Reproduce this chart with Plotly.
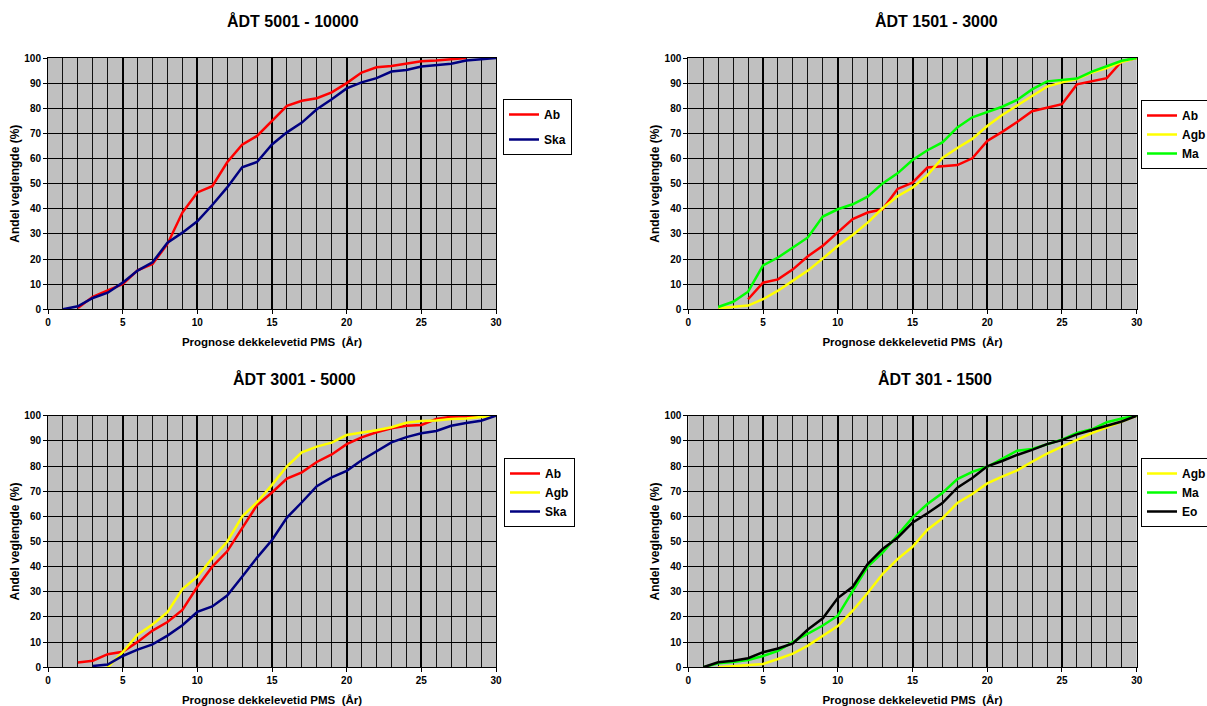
import plotly.graph_objects as go

# ---------------- data ----------------
titles = ["ÅDT 5001 - 10000", "ÅDT 1501 - 3000", "ÅDT 3001 - 5000", "ÅDT 301 - 1500"]
x_title = "Prognose dekkelevetid PMS  (År)"
y_title = "Andel veglengde (%)"

# Panel 1: ÅDT 5001 - 10000
p1_ab_x = list(range(2, 29))
p1_ab = [0.5, 5, 7.5, 10, 15.5, 18, 26, 38.5, 46.5, 49, 58.5, 65.5, 69, 75, 81, 83, 84, 86.3,
         90, 94.2, 96.3, 96.8, 97.6, 98.7, 99, 99.6, 100]
p1_ska_x = list(range(1, 31))
p1_ska = [0, 1.2, 4.5, 6.6, 10.6, 15.4, 18.7, 26.5, 30.5, 35, 41.5, 48.5, 56.5, 58.6, 65.6, 70.4,
          74.3, 79.6, 83.6, 87.9, 90.3, 92, 94.6, 95.2, 96.6, 97.3, 97.7, 99, 99.5, 100]

# Panel 2: ÅDT 1501 - 3000
p2_ab_x = list(range(4, 31))
p2_ab = [4, 10.6, 11.9, 15.9, 21.1, 25.3, 30.6, 35.9, 38.5, 39.8, 47.9, 50.4, 56.4, 56.8, 57.4,
         60.1, 67, 70.6, 74.5, 78.8, 80.1, 81.6, 89.5, 90.7, 92, 98.7, 100]
p2_agb_x = list(range(2, 31))
p2_agb = [0.4, 1, 1.5, 4, 7.4, 11.4, 15.4, 20.2, 25.2, 29.6, 34.5, 40.2, 45, 48.4, 53.4, 60.2,
          64.2, 67.8, 72.9, 77.3, 81.2, 84.9, 88.6, 90.3, 91.6, 94.2, 96, 98.4, 100]
p2_ma_x = list(range(2, 31))
p2_ma = [0.9, 3, 7, 17.5, 20.6, 24.7, 28.6, 36.9, 39.8, 41.8, 44.8, 50.1, 54.1, 59.4, 63.3, 66.4,
         72.4, 76.4, 78.4, 80.6, 83.3, 87.5, 90.7, 91.2, 91.8, 94.6, 96.8, 98.9, 100]

# Panel 3: ÅDT 3001 - 5000
p3_ab_x = list(range(2, 31))
p3_ab = [1.9, 2.6, 5.2, 6.2, 10.1, 14.6, 18, 22.8, 32, 40, 46.1, 55.1, 64.5, 69.5, 75, 77.5, 81.6,
         84.6, 88.7, 91.4, 93.4, 95, 96, 96.3, 98.7, 99.6, 99.9, 100, 100]
p3_agb_x = list(range(4, 31))
p3_agb = [0, 6, 13, 17, 21.9, 31.1, 36, 43.4, 49.9, 59.9, 65.6, 72.5, 79.9, 85.4, 87.7, 89.3, 92.3,
          93.2, 94.2, 95.4, 97.2, 97.9, 98.1, 98.7, 98.9, 99.5, 100]
p3_ska_x = list(range(3, 31))
p3_ska = [0.5, 1.1, 4.5, 7, 9.1, 12.6, 16.7, 22, 24.2, 28.5, 36, 43.6, 50.6, 59.5, 65.6, 72, 75.5,
          78.1, 82.3, 85.7, 89.4, 91.5, 93, 93.9, 96, 97.1, 98, 100]

# Panel 4: ÅDT 301 - 1500
p4_agb_x = list(range(2, 31))
p4_agb = [0, 0.5, 0.9, 1.3, 3.3, 5.4, 8.6, 12.5, 16.4, 22.5, 29.5, 37.1, 43, 47.9, 54.7, 59.2,
          65.3, 68.9, 73.1, 75.8, 78.3, 81.7, 84.9, 87.7, 90.5, 93.1, 95.4, 97.6, 100]
p4_ma_x = list(range(1, 31))
p4_ma = [0, 1.6, 2.1, 2.9, 4.5, 6.5, 10.1, 13.5, 16.6, 20.5, 30, 40, 45.6, 52.6, 59.5, 64.9, 69.3,
         74.8, 77.7, 79.7, 82.8, 86.1, 86.8, 88.6, 90.5, 93.1, 94.6, 97.4, 98.9, 100]
p4_eo_x = list(range(1, 31))
p4_eo = [0, 2, 2.6, 3.6, 6, 7.5, 9.5, 15, 19.5, 27.5, 32, 41, 47, 51.5, 57.5, 61.2, 65.3, 71.4,
         75.2, 79.9, 82, 84.4, 86.4, 88.7, 90.3, 92.6, 94.3, 95.9, 97.7, 100]

COL = {"Ab": "#FF0000", "Ska": "#000080", "Agb": "#FFFF00", "Ma": "#00FF00", "Eo": "#000000"}

panels = [
    [("Ab", p1_ab_x, p1_ab), ("Ska", p1_ska_x, p1_ska)],
    [("Ab", p2_ab_x, p2_ab), ("Agb", p2_agb_x, p2_agb), ("Ma", p2_ma_x, p2_ma)],
    [("Ab", p3_ab_x, p3_ab), ("Agb", p3_agb_x, p3_agb), ("Ska", p3_ska_x, p3_ska)],
    [("Agb", p4_agb_x, p4_agb), ("Ma", p4_ma_x, p4_ma), ("Eo", p4_eo_x, p4_eo)],
]

# ---------------- layout geometry ----------------
W, H = 1207, 706
FONT = "Arial, Liberation Sans, sans-serif"
xdom = [(48 / W, 496 / W), (688.3 / W, 1136.7 / W), (48 / W, 496 / W), (688.3 / W, 1136.7 / W)]
ydom = [(1 - 309.3 / H, 1 - 58 / H), (1 - 309.3 / H, 1 - 58 / H),
        (1 - 667.3 / H, 1 - 415.7 / H), (1 - 667.3 / H, 1 - 415.7 / H)]
title_pos = [(293 / W, 1 - 21 / H), (937 / W, 1 - 21 / H), (294 / W, 1 - 379 / H), (935 / W, 1 - 379 / H)]
legend_pos = [(503 / W, 1 - 99 / H), (1141 / W, 1 - 100 / H), (504 / W, 1 - 458 / H), (1141 / W, 1 - 458 / H)]

fig = go.Figure()
for i, series in enumerate(panels):
    sfx = "" if i == 0 else str(i + 1)
    for name, xs, ys in series:
        fig.add_trace(go.Scatter(
            x=xs, y=ys, mode="lines", name=name,
            line=dict(color=COL[name], width=2.5),
            xaxis="x" + sfx, yaxis="y" + sfx,
            legend="legend" + sfx,
            legendgroup=f"p{i}{name}",
        ))

layout = dict(
    width=W, height=H,
    margin=dict(l=0, r=0, t=0, b=0, autoexpand=False),
    paper_bgcolor="white", plot_bgcolor="#C0C0C0",
    font=dict(family=FONT, color="black"),
    annotations=[],
)
for i in range(4):
    sfx = "" if i == 0 else str(i + 1)
    layout["xaxis" + sfx] = dict(
        domain=list(xdom[i]), anchor="y" + sfx, range=[0, 30],
        tick0=0, dtick=5, showgrid=True, gridcolor="black", gridwidth=2,
        minor=dict(dtick=1, showgrid=True, gridcolor="#111111", gridwidth=1),
        ticks="outside", ticklen=4, tickcolor="black", tickwidth=1,
        showline=True, linecolor="black", linewidth=1, mirror=True, zeroline=False,
        tickfont=dict(size=10, family=FONT, weight="bold"),
        title=dict(text=x_title, font=dict(size=11.5, family=FONT, weight="bold"), standoff=10),
    )
    layout["yaxis" + sfx] = dict(
        domain=list(ydom[i]), anchor="x" + sfx, range=[0, 100],
        tick0=0, dtick=10, showgrid=True, gridcolor="black", gridwidth=1,
        ticks="outside", ticklen=4, tickcolor="black", tickwidth=1,
        showline=True, linecolor="black", linewidth=1, mirror=True, zeroline=False,
        tickfont=dict(size=10, family=FONT, weight="bold"),
        title=dict(text=y_title, font=dict(size=12, family=FONT, weight="bold"), standoff=2),
    )
    layout["legend" + sfx] = dict(
        x=legend_pos[i][0], y=legend_pos[i][1], xanchor="left", yanchor="top",
        bgcolor="white", bordercolor="black", borderwidth=1,
        font=dict(size=12, family=FONT, weight="bold", color="black"),
        itemwidth=30, tracegroupgap=6 if i == 0 else 0,
        traceorder="grouped" if i == 0 else "normal",
    )
    layout["annotations"].append(dict(
        text=titles[i], x=title_pos[i][0], y=title_pos[i][1], xref="paper", yref="paper",
        showarrow=False, xanchor="center", yanchor="middle",
        font=dict(size=16, family=FONT, weight="bold", color="black"),
    ))

fig.update_layout(**layout)
fig.write_html("out.html", config={"displayModeBar": False},
               post_script="document.body.style.margin='0px';")
